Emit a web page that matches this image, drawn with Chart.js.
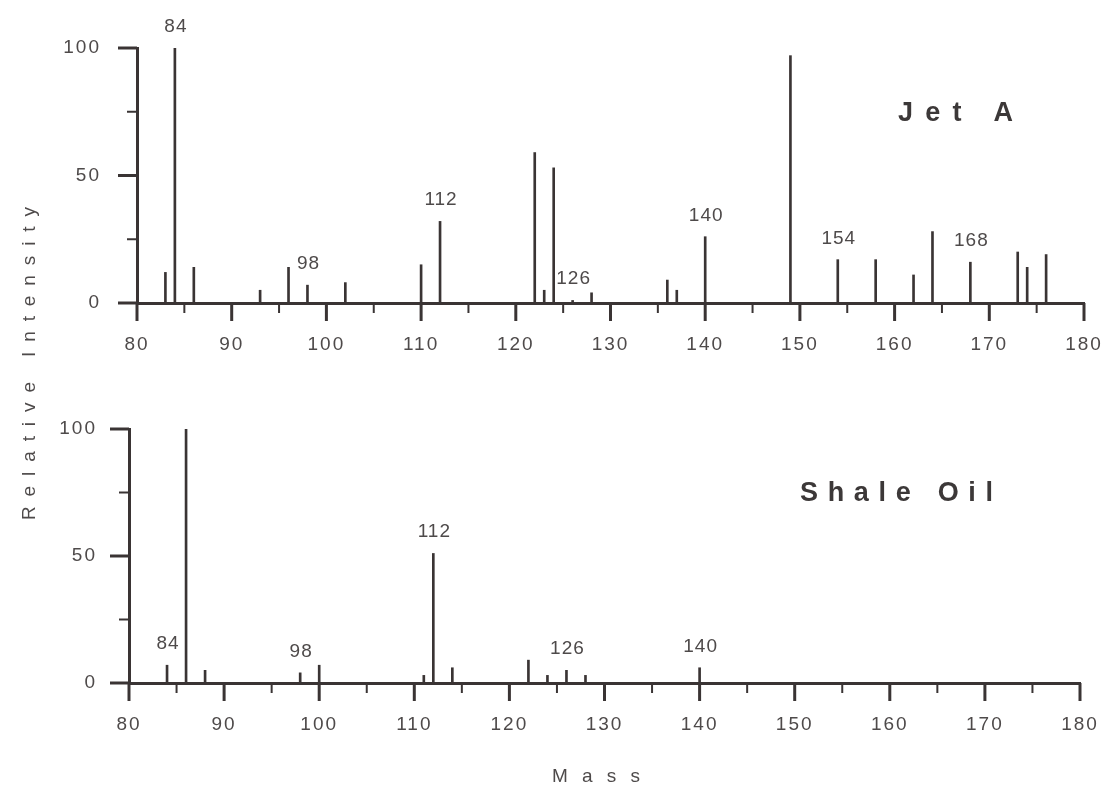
<!DOCTYPE html>
<html>
<head>
<meta charset="utf-8">
<script src="https://cdn.jsdelivr.net/npm/chart.js@4.4.0/dist/chart.umd.min.js"></script>
<style>
  html, body { margin: 0; padding: 0; background: #fff; }
  #wrap { position: relative; width: 1109px; height: 794px; }
  #wrap canvas { position: absolute; left: 0; top: 0; }
</style>
</head>
<body>
<div id="wrap">
  <canvas id="jetChart" width="1109" height="794"></canvas>
  <canvas id="shaleChart" width="1109" height="794"></canvas>
</div>
<script>
// tick labels
const massTicks = [80, 90, 100, 110, 120, 130, 140, 150, 160, 170, 180];
const intensityTicks = [0, 50, 100];

// Jet A spectrum
const jetMass      = [83, 84, 86, 93, 96, 98, 102, 110, 112, 122, 123, 124, 126, 128, 136, 137, 140, 149, 154, 158, 162, 164, 168, 173, 174, 176];
const jetIntensity = [12, 100, 14, 5, 14, 7, 8, 15, 32, 59, 5, 53, 1, 4, 9, 5, 26, 97, 17, 17, 11, 28, 16, 20, 14, 19];
const jetLabelled  = [84, 98, 112, 126, 140, 154, 168];

// Shale oil spectrum
const shaleMass      = [84, 86, 88, 98, 100, 111, 112, 114, 122, 124, 126, 128, 140];
const shaleIntensity = [7, 100, 5, 4, 7, 3, 51, 6, 9, 3, 5, 3, 6];
const shaleLabelled  = [84, 98, 112, 126, 140];

const INK = '#3a3434';
const TEXT = '#4e4a4a';
const W = 1109, H = 794;

// draw text stretched between x0 and x1 (typewriter-style spacing)
function spacedText(ctx, text, x0, x1, y, font, color) {
  ctx.save();
  ctx.letterSpacing = '0px';
  ctx.font = font;
  ctx.fillStyle = color;
  ctx.textAlign = 'left';
  ctx.textBaseline = 'middle';
  const chars = [...text];
  const widths = chars.map(c => ctx.measureText(c).width);
  const total = widths.reduce((a, b) => a + b, 0);
  const gap = (x1 - x0 - total) / (chars.length - 1);
  let x = x0;
  chars.forEach((c, i) => { ctx.fillText(c, x, y); x += widths[i] + gap; });
  ctx.restore();
}

function makeSpectrum(canvasId, masses, values, labelled, box, yLabelPad, extra) {
  const decor = {
    id: 'decor',
    beforeDraw(chart) { chart.ctx.letterSpacing = '2px'; },
    afterDraw(chart) {
      const ctx = chart.ctx;
      const xs = chart.scales.x, ys = chart.scales.y;
      const area = chart.chartArea;
      ctx.save();
      ctx.letterSpacing = '0px';
      ctx.strokeStyle = INK;
      // x ticks, major every 10, minor every 5
      for (let v = xs.min; v <= xs.max; v += 5) {
        const major = v % 10 === 0;
        const x = xs.getPixelForValue(v);
        ctx.lineWidth = major ? 3 : 2;
        ctx.beginPath();
        ctx.moveTo(x, area.bottom);
        ctx.lineTo(x, area.bottom + (major ? 18 : 10));
        ctx.stroke();
      }
      // y ticks, major every 50, minor every 25
      for (let v = ys.min; v <= ys.max; v += 25) {
        const major = v % 50 === 0;
        const y = ys.getPixelForValue(v);
        ctx.lineWidth = major ? 3 : 2;
        ctx.beginPath();
        ctx.moveTo(area.left, y);
        ctx.lineTo(area.left - (major ? 19 : 10), y);
        ctx.stroke();
      }
      // peak labels
      ctx.fillStyle = TEXT;
      ctx.font = '19px "Liberation Sans", Arial, sans-serif';
      ctx.letterSpacing = '1px';
      ctx.textAlign = 'center';
      ctx.textBaseline = 'alphabetic';
      labelled.forEach(m => {
        const v = values[masses.indexOf(m)];
        ctx.fillText(String(m), xs.getPixelForValue(m) + 1, ys.getPixelForValue(v) - 16);
      });
      ctx.restore();
      if (extra) extra(ctx);
    }
  };

  return new Chart(document.getElementById(canvasId), {
    type: 'bar',
    data: {
      datasets: [{
        data: masses.map((m, i) => ({ x: m, y: values[i] })),
        backgroundColor: INK,
        borderWidth: 0,
        barThickness: 2
      }]
    },
    options: {
      responsive: false,
      animation: false,
      layout: {
        padding: { left: 0, right: W - box.right, top: box.top, bottom: H - box.bottom - 60 }
      },
      plugins: { legend: { display: false }, tooltip: { enabled: false } },
      scales: {
        x: {
          type: 'linear',
          min: 80, max: 180,
          offset: false,
          afterFit: s => { s.height = 60; s.paddingLeft = 0; s.paddingRight = 0; },
          afterBuildTicks: s => { s.ticks = massTicks.map(v => ({ value: v })); },
          grid: { display: false, drawTicks: false, offset: false },
          border: { display: true, width: 3, color: INK },
          ticks: {
            padding: 30, color: TEXT, maxRotation: 0, autoSkip: false,
            font: { family: '"Liberation Sans", Arial, sans-serif', size: 19 }
          }
        },
        y: {
          min: 0, max: 100,
          afterFit: s => { s.width = box.left; s.paddingTop = 0; s.paddingBottom = 0; },
          afterBuildTicks: s => { s.ticks = intensityTicks.map(v => ({ value: v })); },
          grid: { display: false, drawTicks: false },
          border: { display: true, width: 3, color: INK },
          ticks: {
            padding: yLabelPad, color: TEXT,
            font: { family: '"Liberation Sans", Arial, sans-serif', size: 19 }
          }
        }
      }
    },
    plugins: [decor]
  });
}

makeSpectrum('jetChart', jetMass, jetIntensity, jetLabelled,
  { left: 137, right: 1084, top: 48, bottom: 303 }, 36,
  ctx => {
    spacedText(ctx, 'Jet A', 898, 1013, 114, '700 27px "Liberation Sans", Arial, sans-serif', '#3c3838');
  });

makeSpectrum('shaleChart', shaleMass, shaleIntensity, shaleLabelled,
  { left: 129, right: 1080, top: 429, bottom: 683 }, 32,
  ctx => {
    spacedText(ctx, 'Shale Oil', 800, 993, 494, '700 27px "Liberation Sans", Arial, sans-serif', '#3c3838');
    spacedText(ctx, 'Mass', 552, 640, 777, '19px "Liberation Sans", Arial, sans-serif', TEXT);
    ctx.save();
    ctx.translate(30, 363);
    ctx.rotate(-Math.PI / 2);
    spacedText(ctx, 'Relative Intensity', -157, 156, 0, '19px "Liberation Sans", Arial, sans-serif', TEXT);
    ctx.restore();
  });
</script>
</body>
</html>
